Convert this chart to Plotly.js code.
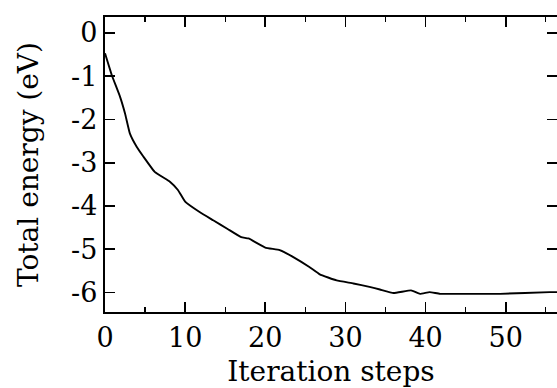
<!DOCTYPE html>
<html>
<head>
<meta charset="utf-8">
<script src="https://cdn.plot.ly/plotly-3.0.1.min.js"></script>
<style>html,body{margin:0;padding:0;background:#fff;}</style>
</head>
<body>
<div id="chart" style="width:557px;height:388px;"></div>
<script>
// Iteration step (x) and total energy in eV (y)
const steps  = [0, 0.84, 1.87, 2.5, 3.1, 3.95, 4.8, 6.2, 8.1, 9.1, 10.0, 11.8, 13.5, 15.3, 17.0, 17.9, 20.0, 21.8, 23.5, 25.5, 26.8, 28.9, 31.0, 33.0, 34.3, 36.0, 38.2, 39.3, 40.5, 41.8, 46.8, 49.3, 55.5, 56.4];
const energy = [-0.47, -0.97, -1.47, -1.86, -2.32, -2.63, -2.86, -3.21, -3.44, -3.63, -3.90, -4.14, -4.33, -4.53, -4.72, -4.75, -4.96, -5.02, -5.18, -5.41, -5.58, -5.72, -5.79, -5.87, -5.93, -6.01, -5.95, -6.03, -5.99, -6.03, -6.03, -6.03, -5.99, -5.99];
const xTicks = [0, 10, 20, 30, 40, 50];
const yTicks = [0, -1, -2, -3, -4, -5, -6];

const font = "DejaVu Serif, Liberation Serif, serif";

const trace = {
  x: steps, y: energy, type: 'scatter', mode: 'lines',
  line: {color: '#000', width: 1.9, shape: 'spline', smoothing: 0.3},
  hoverinfo: 'skip'
};

const layout = {
  width: 557, height: 388,
  margin: {l: 105, r: 0, t: 17, b: 76},
  paper_bgcolor: '#fff', plot_bgcolor: '#fff',
  showlegend: false,
  font: {family: font, color: '#000'},
  xaxis: {
    range: [0, 56.4], showgrid: false, zeroline: false,
    showline: true, linecolor: '#000', linewidth: 2.2, mirror: 'ticks',
    ticks: 'inside', ticklen: 10, tickwidth: 1.6, tickcolor: '#000',
    tickvals: xTicks, ticktext: xTicks.map(String),
    minor: {dtick: 5, tick0: 5, ticks: 'inside', ticklen: 5, tickwidth: 1.3, tickcolor: '#000', showgrid: false},
    tickfont: {family: font, size: 27, color: '#000'},
    title: {text: 'Iteration steps', font: {family: font, size: 28, color: '#000'}, standoff: 12}
  },
  yaxis: {
    range: [-6.45, 0.37], showgrid: false, zeroline: false,
    showline: true, linecolor: '#000', linewidth: 2.2, mirror: 'ticks',
    ticks: 'inside', ticklen: 10, tickwidth: 1.6, tickcolor: '#000',
    tickvals: yTicks, ticktext: yTicks.map(String),
    tickfont: {family: font, size: 27, color: '#000'},
    title: {text: 'Total energy (eV)', font: {family: font, size: 28, color: '#000'}, standoff: 24}
  }
};

Plotly.newPlot('chart', [trace], layout, {staticPlot: true, displayModeBar: false});
</script>
</body>
</html>
